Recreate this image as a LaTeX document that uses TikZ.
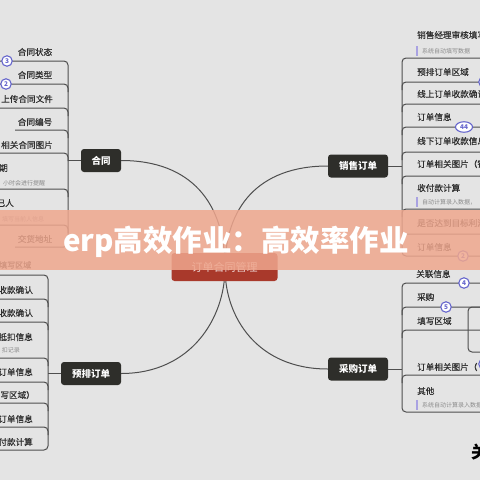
\documentclass[tikz,border=0pt]{standalone}
\usepackage{fontspec}
\usetikzlibrary{shapes.geometric}
\setmainfont{Noto Sans CJK SC}
\newfontfamily\itemfont[FakeBold=0.5]{Noto Sans CJK SC}
\definecolor{bgc}{HTML}{E4E4E4}
\definecolor{linec}{HTML}{4E4E4E}
\definecolor{topicc}{HTML}{2E2E2A}
\definecolor{txtc}{HTML}{303030}
\definecolor{notec}{HTML}{8C8C8C}
\definecolor{barc}{HTML}{A9A2E2}
\definecolor{badgec}{HTML}{6464CC}
\definecolor{centralc}{HTML}{A9392B}
\definecolor{bannerc}{HTML}{EFA78E}
\tikzset{
  conn/.style={draw=linec, line width=1pt},
  br/.style={conn, rounded corners=4pt},
  item/.style={font=\itemfont\fontsize{8.6}{10}\selectfont, text=txtc, inner sep=0pt},
  note/.style={font=\fontsize{6}{7}\selectfont, text=notec, inner sep=0pt},
  notebar/.style={draw=barc, line width=1.1pt},
  topic/.style={fill=topicc, rounded corners=3pt, text=white, font=\bfseries\fontsize{9.5}{11}\selectfont, minimum height=23pt, inner xsep=2pt},
  badge/.style={circle, draw=badgec, fill=white, line width=1.1pt, minimum size=10.5pt, inner sep=0pt, text=badgec, font=\bfseries\fontsize{6.5}{7}\selectfont},
  central/.style={fill=centralc, rounded corners=3pt, text={white!80!centralc}, font=\fontsize{11}{13}\selectfont, minimum width=106pt, minimum height=28pt},
  bannertext/.style={text=white, font=\bfseries\fontsize{29.5}{32}\selectfont, inner sep=0pt},
}
\begin{document}
\begin{tikzpicture}[x=1pt,y=-1pt]
\useasboundingbox (0,0) rectangle (480,480);
\fill[bgc] (0,0) rectangle (480,480);
\begin{scope}
\clip (0,0) rectangle (480,480);
\coordinate (hub) at (225,268);
% topics
\node[topic, minimum width=40pt] (ht) at (101,160.5) {合同};
\node[topic, minimum width=60pt] (xs) at (358,166) {销售订单};
\node[topic, minimum width=60pt] (yp) at (91,373.5) {预排订单};
\node[topic, minimum width=60pt] (cg) at (358,369) {采购订单};
% curves to root
\draw[conn] (ht.east) .. controls +(70,0) and +(0,-65) .. (hub);
\draw[conn] (xs.west) .. controls +(-70,0) and +(0,-60) .. (hub);
\draw[conn] (yp.east) .. controls +(70,0) and +(0,50) .. (hub);
\draw[conn] (cg.west) .. controls +(-70,0) and +(0,50) .. (hub);
\node[central] (root) at (224.5,267) {订单合同管理};

% ---------- 合同 subtree ----------
\coordinate (hs) at (68,160.5);
\draw[conn] (ht.west) -- (hs);
\draw[br] (-5,61) -- (68,61) -- (68,247) -- (15,247);
\foreach \y in {84,108,153,189,225} \draw[br] (-5,\y) -- (68,\y) -- (68,\y+8);
\draw[br] (15,130) -- (68,130) -- (68,138);
\node[badge] (hb1) at (7,61) {3};
\node[badge] (hb2) at (6,84) {2};
\node[item] (h1) at (35,52) {合同状态};
\node[item] (h2) at (35,75) {合同类型};
\node[item, anchor=east] (h3) at (53,99) {上传合同文件};
\node[item] (h4) at (35,122) {合同编号};
\node[item, anchor=east] (h5) at (53,145) {相关合同图片};
\node[item, anchor=east] (h6) at (8,168) {期};
\node[note, anchor=west] (h6n) at (3,183) {小时会进行提醒};
\node[item, anchor=east] (h7) at (14,203) {己人};
\node[note, anchor=west] (h7n) at (2,219) {填写当前人信息};
\node[item] (h8) at (35,239) {交货地址};

% ---------- 预排订单 subtree ----------
\coordinate (ys) at (48,373.5);
\draw[conn] (yp.west) -- (ys);
\draw[br] (-5,275) -- (48,275) -- (48,450) -- (-5,450);
\foreach \y in {299,322,358,382,403,427} \draw[br] (-5,\y) -- (48,\y) -- (48,\y+8);
\node[item, anchor=west, font=\itemfont\fontsize{8}{9}\selectfont] (y0) at (-1,265) {填写区域};
\node[item, anchor=east] (y1) at (33,290) {收款确认};
\node[item, anchor=east] (y2) at (33,313) {收款确认};
\node[item, anchor=east] (y3) at (33,337) {抵扣信息};
\node[note, anchor=east] (y3n) at (20,350) {扣记录};
\node[item, anchor=east] (y4) at (33,372) {订单信息};
\node[item, anchor=east] (y5) at (35,395) {写区域）};
\node[item, anchor=east] (y6) at (33,419) {订单信息};
\node[item, anchor=east] (y7) at (33,442) {付款计算};

% ---------- 销售订单 subtree ----------
\coordinate (xsp) at (402,166);
\draw[conn] (xs.east) -- (xsp);
\draw[br] (490,58) -- (402,58) -- (402,256) -- (490,256);
\foreach \y in {82,104,127,152,176,209,234} \draw[br] (490,\y) -- (402,\y) -- (402,\y+8);
\node[item, anchor=west] (x0) at (417,35) {销售经理审核填写};
\draw[notebar] (417,46) -- (417,56);
\node[note, anchor=west] (x0n) at (422,51) {系统自动填写数据};
\node[item, anchor=west] (x1) at (417,72) {预排订单区域};
\node[badge] (xb1) at (484,82) {};
\node[item, anchor=west] (x2) at (417,94) {线上订单收款确认};
\node[item, anchor=west] (x3) at (417,117) {订单信息};
\node[badge, ellipse, minimum width=17pt, minimum height=10.5pt] (xb2) at (464,127) {44};
\node[item, anchor=west] (x4) at (417,141) {线下订单收款信息};
\node[item, anchor=west] (x5) at (417,164) {订单相关图片（销售};
\node[item, anchor=west] (x6) at (417,188) {收付款计算};
\draw[notebar] (417,197) -- (417,207);
\node[note, anchor=west] (x6n) at (422,202) {自动计算录入数据，};
\node[item, anchor=west] (x7) at (417,223) {是否达到目标利润};
\node[item, anchor=west] (x8) at (417,247) {订单信息};
\node[badge] (xb3) at (463,256) {2};

% ---------- 采购订单 subtree ----------
\coordinate (csp) at (402,369);
\draw[conn] (cg.east) -- (csp);
\draw[br] (490,283) -- (402,283) -- (402,412) -- (490,412);
\foreach \y in {307,330,375} \draw[br] (490,\y) -- (402,\y) -- (402,\y+8);
\draw[br] (495,307) -- (468,307) -- (468,352) -- (495,352);
\node[item, anchor=west] (c0) at (416,274) {关联信息};
\node[badge] (cb1) at (464,283) {4};
\node[item, anchor=west] (c1) at (417,297) {采购};
\node[badge] (cb2) at (446,307) {5};
\node[item, anchor=west] (c2) at (417,321) {填写区域};
\node[item, anchor=west] (c3) at (417,367) {订单相关图片（};
\node[badge] (cb3) at (484,364) {};
\node[item, anchor=west] (c4) at (417,391) {其他};
\draw[notebar] (417,400) -- (417,410);
\node[note, anchor=west] (c4n) at (422,405) {系统自动计算录入数据};

% watermark fragment
\node[anchor=west, inner sep=0pt, font=\bfseries\fontsize{17}{18}\selectfont, text=black] (wm) at (471,452) {关};

% banner
\fill[bannerc, opacity=0.85] (0,210) rectangle (480,270);
\node[bannertext] (title) at (236,242) {erp高效作业：高效率作业};
\end{scope}
\end{tikzpicture}
\end{document}
